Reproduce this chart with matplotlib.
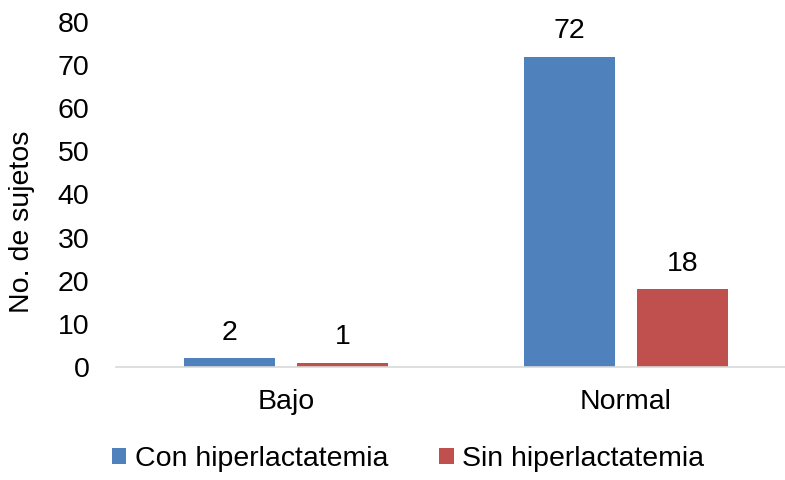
import matplotlib
matplotlib.use("Agg")
import matplotlib.pyplot as plt
import numpy as np

categories = ["Bajo", "Normal"]
series_names = ["Con hiperlactatemia", "Sin hiperlactatemia"]
con_hiper = [2, 72]
sin_hiper = [1, 18]
colors = ["#4F81BD", "#C0504D"]

plt.rcParams['font.family'] = ['Liberation Sans', 'DejaVu Sans']
FS = 20.5

fig = plt.figure(figsize=(7.85, 4.8), dpi=100)
ax = fig.add_axes([116 / 785, 113 / 480, 1 - 116 / 785, 345 / 480])

x = np.arange(len(categories))
width = 0.268
offset = 0.166
for vals, name, col, off in [(con_hiper, series_names[0], colors[0], -offset),
                             (sin_hiper, series_names[1], colors[1], offset)]:
    bars = ax.bar(x + off, vals, width, color=col, label=name, zorder=2)
    for b, v in zip(bars, vals):
        ax.annotate(str(v), (b.get_x() + b.get_width() / 2, v),
                    xytext=(0, 9), textcoords="offset points",
                    ha="center", va="bottom", fontsize=FS)

ax.set_xlim(-0.5, 1.4676)
ax.set_ylim(0, 80)
ax.set_yticks(range(0, 81, 10))
ax.set_xticks(x)
ax.set_xticklabels(categories)
ax.tick_params(axis="both", length=0, labelsize=FS)
ax.tick_params(axis="y", pad=19)
ax.tick_params(axis="x", pad=16)
for s in ["top", "right", "left"]:
    ax.spines[s].set_visible(False)
ax.spines["bottom"].set_color("#D9D9D9")
ax.spines["bottom"].set_linewidth(1.2)
ax.set_ylabel("No. de sujetos", fontsize=FS, va="center")
ax.yaxis.set_label_coords(-0.1405, 0.42)

fig.legend(loc="center", bbox_to_anchor=(408 / 785, 1 - 459 / 480), ncol=2,
           frameon=False, fontsize=FS, handlelength=0.5, handleheight=0.5,
           handletextpad=0.3, columnspacing=1.8)

fig.savefig("out.png", dpi=100)
